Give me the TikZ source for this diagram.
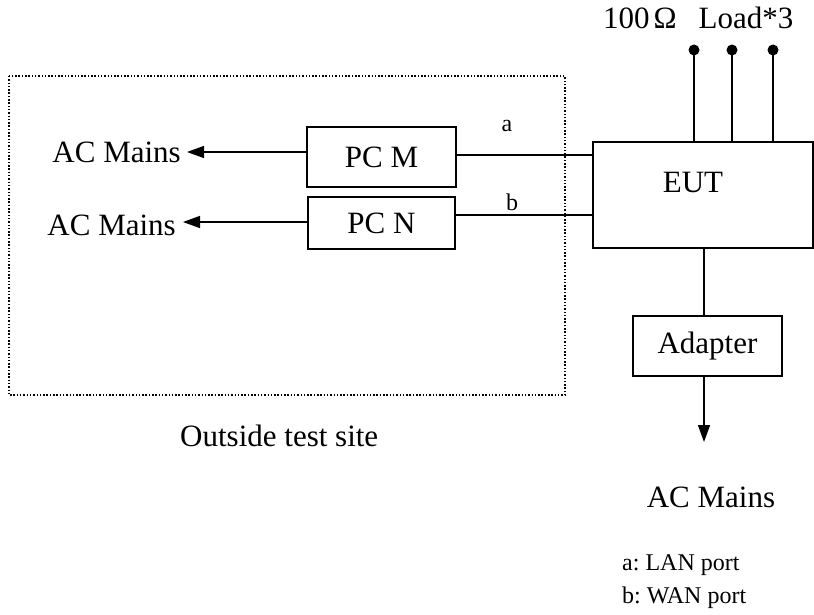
\documentclass[tikz,border=0pt]{standalone}
\usepackage{fontspec}
\setmainfont{Liberation Serif}
\usetikzlibrary{arrows.meta}
\begin{document}
\frenchspacing
\begin{tikzpicture}[x=1pt,y=-1pt,
  box/.style={draw,line width=1.8pt,inner sep=0pt},
  big/.style={font=\fontsize{31}{36}\selectfont,inner sep=0pt},
  small/.style={font=\fontsize{24}{28}\selectfont,inner sep=0pt},
  wire/.style={line width=1.5pt},
  arr/.style={line width=1.5pt,-{Triangle[length=17pt,width=12pt]}},
  dotbox/.style={line width=1.5pt,dash pattern=on 1.5pt off 1.8pt}]
\useasboundingbox (0,0) rectangle (814,615);
% dotted outside region
\draw[dotbox] (9,76) rectangle (565,395);
\node[big,anchor=base west] (site) at (180,446) {Outside test site};
% boxes
\node[box,big,minimum width=149pt,minimum height=60pt] (pcm) at (381.5,157) {PC M};
\node[box,big,minimum width=147pt,minimum height=52pt] (pcn) at (381.5,223) {PC N};
\node[box,minimum width=220pt,minimum height=106pt] (eut) at (703,195) {};
\node[big] (eutt) at (693,183) {EUT};
\node[box,big,minimum width=149pt,minimum height=60pt] (adp) at (707.5,346) {Adapter};
% AC mains labels
\node[big,anchor=base east] (acm1) at (181,162) {AC Mains};
\node[big,anchor=base east] (acm2) at (176,235) {AC Mains};
\node[big,anchor=base] (acm3) at (711,507) {AC Mains};
\coordinate (t1) at (187,152);
\coordinate (t2) at (183,222);
\draw[arr] (pcm.west |- t1) -- (t1);
\draw[arr] (pcn.west |- t2) -- (t2);
% lines a, b
\coordinate (ya) at (0,155);
\coordinate (yb) at (0,215);
\draw[wire] (pcm.east |- ya) -- (eut.west |- ya);
\draw[wire] (pcn.east |- yb) -- (eut.west |- yb);
\node[small,anchor=base] (la) at (507,132) {a};
\node[small,anchor=base] (lb) at (512,210) {b};
% EUT to adapter, adapter to mains
\coordinate (vx) at (704,0);
\coordinate (tip) at (704,442);
\draw[wire] (eut.south -| vx) -- (adp.north -| vx);
\draw[arr] (adp.south -| vx) -- (tip);
% loads
\node[big,anchor=base west] (load) at (603,29) {100\hspace{4pt}Ω\hspace{22pt}Load*3};
\foreach \i/\x in {1/694,2/732,3/773}{
  \coordinate (p\i) at (\x,50);
  \draw[wire] (p\i) -- (p\i |- eut.north);
  \fill (p\i) circle (5.5pt);
}
% legend
\node[small,anchor=base west] (lega) at (622,570) {a: LAN port};
\node[small,anchor=base west] (legb) at (622,603) {b: WAN port};
\end{tikzpicture}
\end{document}
